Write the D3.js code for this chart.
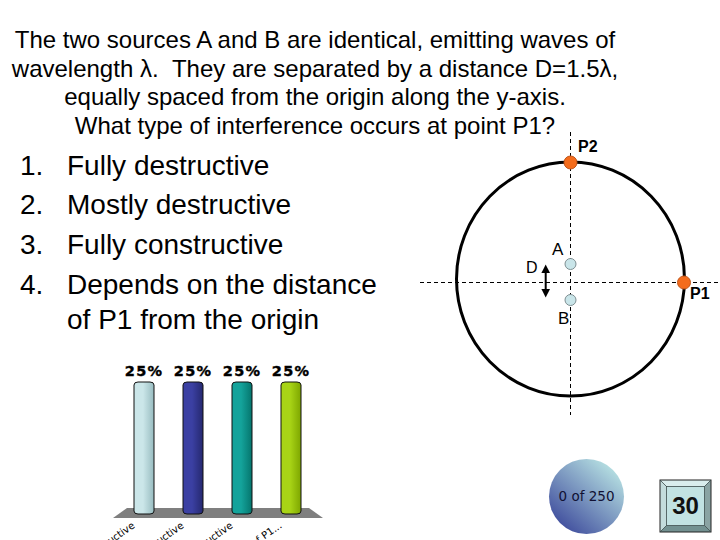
<!DOCTYPE html>
<html>
<head>
<meta charset="utf-8">
<script src="https://cdn.jsdelivr.net/npm/d3@7"></script>
<style>
  body { margin: 0; background: #fff; }
  svg { display: block; }
</style>
</head>
<body>
<div id="chart"></div>
<script>
// question text
const titleLines = [
    "The two sources A and B are identical, emitting waves of",
    "wavelength \u03bb.  They are separated by a distance D=1.5\u03bb,",
    "equally spaced from the origin along the y-axis.",
    "What type of interference occurs at point P1?"
];

// answer options
const optionNums = ["1.", "2.", "3.", "4."];
const optionLines = [
    ["Fully destructive"],
    ["Mostly destructive"],
    ["Fully constructive"],
    ["Depends on the distance", "of P1 from the origin"]
];

// response chart
const categories = ["Fully destructive", "Mostly destructive", "Fully constructive", "Depends on the distance of P1..."];
const percents = [25, 25, 25, 25];
const barColors = [["#cbe6e9", "#98bcc0"], ["#3b40a3", "#25286f"], ["#14a39b", "#05756d"], ["#a8d416", "#7ea600"]];

const responses = 0, participants = 250, countdown = 30;

const width = 720, height = 540;

const svg = d3.select("#chart")
    .append("svg")
    .attr("width", width)
    .attr("height", height);

const defs = svg.append("defs");

// Title
svg.append("g")
    .selectAll("text")
    .data(titleLines)
    .enter().append("text")
    .attr("x", 315)
    .attr("y", (d, i) => 48 + i * 28.7)
    .attr("text-anchor", "middle")
    .style("font-family", "Liberation Sans, Arial, sans-serif")
    .style("font-size", "24px")
    .style("white-space", "pre")
    .style("fill", "#000")
    .text(d => d);

// Options list
const optY = [175, 214, 254, 294];
const opts = svg.append("g")
    .style("font-family", "Liberation Sans, Arial, sans-serif")
    .style("font-size", "28px")
    .style("fill", "#000");

optionNums.forEach((n, i) => {
    opts.append("text").attr("x", 20).attr("y", optY[i]).text(n);
    optionLines[i].forEach((line, j) => {
        opts.append("text")
            .attr("x", 67)
            .attr("y", optY[i] + j * 35)
            .text(line);
    });
});

// Diagram: circle with sources
const cx = 570.5, cy = 282.5;
const diag = svg.append("g");

diag.append("line")
    .attr("x1", 420).attr("x2", 720)
    .attr("y1", cy).attr("y2", cy)
    .attr("stroke", "#000").attr("stroke-width", 1)
    .attr("stroke-dasharray", "4,3");

diag.append("line")
    .attr("x1", cx).attr("x2", cx)
    .attr("y1", 132).attr("y2", 415)
    .attr("stroke", "#000").attr("stroke-width", 1)
    .attr("stroke-dasharray", "4,3");

diag.append("ellipse")
    .attr("cx", cx).attr("cy", 279)
    .attr("rx", 114).attr("ry", 117)
    .attr("fill", "none")
    .attr("stroke", "#000")
    .attr("stroke-width", 3);

// sources A, B
[264, 300].forEach(y => {
    diag.append("circle")
        .attr("cx", cx).attr("cy", y).attr("r", 5.5)
        .attr("fill", "#c9e5e9")
        .attr("stroke", "#7f8f92")
        .attr("stroke-width", 1);
});

// points P1, P2
[[cx, 162.5], [684, cy]].forEach(p => {
    diag.append("circle")
        .attr("cx", p[0]).attr("cy", p[1]).attr("r", 6.5)
        .attr("fill", "#f46c1c")
        .attr("stroke", "#c2561a")
        .attr("stroke-width", 1);
});

// double arrow for D
defs.append("marker")
    .attr("id", "ah")
    .attr("viewBox", "0 0 10 10")
    .attr("refX", 6).attr("refY", 5)
    .attr("markerWidth", 4.5).attr("markerHeight", 4.5)
    .attr("orient", "auto-start-reverse")
    .append("path")
    .attr("d", "M0,0 L10,5 L0,10 z")
    .attr("fill", "#000");

diag.append("line")
    .attr("x1", 545.7).attr("x2", 545.7)
    .attr("y1", 268).attr("y2", 294)
    .attr("stroke", "#000").attr("stroke-width", 2)
    .attr("marker-start", "url(#ah)")
    .attr("marker-end", "url(#ah)");

const lbl = (x, y, t, size, bold) => diag.append("text")
    .attr("x", x).attr("y", y)
    .style("font-family", "Liberation Sans, Arial, sans-serif")
    .style("font-size", size + "px")
    .style("font-weight", bold ? "bold" : "normal")
    .text(t);

lbl(552, 255, "A", 17, false);
lbl(558, 324, "B", 17, false);
lbl(526, 273, "D", 16, false);
lbl(578, 152, "P2", 16, true);
lbl(690, 299, "P1", 16, true);

// Bar chart of responses
const x = d3.scalePoint()
    .domain(categories)
    .range([144, 291]);

const y = d3.scaleLinear()
    .domain([0, d3.max(percents)])
    .range([514, 382]);

const barW = 20;
const chart = svg.append("g");

// floor
const fx0 = x(categories[0]) - 17, fx1 = x(categories[categories.length - 1]) + 18;
chart.append("polygon")
    .attr("points", `${fx0},508 ${fx1},508 ${fx1 + 14},518 ${fx0 - 14},518`)
    .attr("fill", "#7f7f7f");

barColors.forEach((c, i) => {
    const g = defs.append("linearGradient")
        .attr("id", "bg" + i)
        .attr("x1", "0%").attr("x2", "100%");
    g.append("stop").attr("offset", "0%").attr("stop-color", c[0]);
    g.append("stop").attr("offset", "45%").attr("stop-color", c[0]);
    g.append("stop").attr("offset", "100%").attr("stop-color", c[1]);
});

chart.selectAll(".bar")
    .data(percents)
    .enter().append("rect")
    .attr("class", "bar")
    .attr("x", (d, i) => x(categories[i]) - barW / 2)
    .attr("y", d => y(d))
    .attr("width", barW)
    .attr("height", d => y(0) - y(d))
    .attr("rx", 4).attr("ry", 3)
    .attr("fill", (d, i) => `url(#bg${i})`)
    .attr("stroke", "#111")
    .attr("stroke-width", 1);

chart.selectAll(".pct")
    .data(percents)
    .enter().append("text")
    .attr("class", "pct")
    .attr("x", (d, i) => x(categories[i]))
    .attr("y", d => y(d) - 6)
    .attr("text-anchor", "middle")
    .style("font-family", "DejaVu Sans, Verdana, sans-serif")
    .style("font-size", "14.5px")
    .style("font-weight", "bold")
    .style("letter-spacing", "1.2px")
    .style("stroke", "#000")
    .style("stroke-width", "0.4px")
    .text(d => d + "%");

// category axis (clipped by the bottom edge, as in the slide)
const xAxis = chart.append("g")
    .attr("transform", "translate(-9,527)")
    .call(d3.axisBottom(x).tickSize(0).tickPadding(0));
xAxis.select(".domain").remove();
xAxis.selectAll("text")
    .attr("y", 0)
    .attr("dy", 0)
    .attr("text-anchor", "end")
    .attr("transform", "rotate(-35)")
    .style("font-family", "DejaVu Sans, Verdana, sans-serif")
    .style("font-size", "10px")
    .style("fill", "#000");

// response counter
const rg = defs.append("linearGradient")
    .attr("id", "cnt")
    .attr("x1", "15%").attr("y1", "90%")
    .attr("x2", "85%").attr("y2", "10%");
rg.append("stop").attr("offset", "0%").attr("stop-color", "#414f9e");
rg.append("stop").attr("offset", "100%").attr("stop-color", "#b6e0e2");

svg.append("circle")
    .attr("cx", 586.5).attr("cy", 496.5).attr("r", 37.5)
    .attr("fill", "url(#cnt)");

svg.append("text")
    .attr("x", 586.5).attr("y", 501)
    .attr("text-anchor", "middle")
    .style("font-family", "DejaVu Sans, Tahoma, sans-serif")
    .style("font-size", "13.5px")
    .style("fill", "#111133")
    .text(`${responses} of ${participants}`);

// countdown box
const bx0 = 660, by0 = 480, bx1 = 711, by1 = 532;
const ix0 = 666.5, iy0 = 486.5, ix1 = 704.5, iy1 = 525.5;
const box = svg.append("g");
box.append("polygon").attr("points", `${bx0},${by0} ${bx1},${by0} ${ix1},${iy0} ${ix0},${iy0}`).attr("fill", "#d9eded");
box.append("polygon").attr("points", `${bx0},${by0} ${ix0},${iy0} ${ix0},${iy1} ${bx0},${by1}`).attr("fill", "#c3dcdc");
box.append("polygon").attr("points", `${bx1},${by0} ${bx1},${by1} ${ix1},${iy1} ${ix1},${iy0}`).attr("fill", "#8aa3a3");
box.append("polygon").attr("points", `${bx0},${by1} ${ix0},${iy1} ${ix1},${iy1} ${bx1},${by1}`).attr("fill", "#739191");
box.append("rect")
    .attr("x", ix0).attr("y", iy0)
    .attr("width", ix1 - ix0).attr("height", iy1 - iy0)
    .attr("fill", "#c2e2e2")
    .attr("stroke", "#3a4a4a").attr("stroke-width", 0.8);
box.append("rect")
    .attr("x", bx0).attr("y", by0)
    .attr("width", bx1 - bx0).attr("height", by1 - by0)
    .attr("fill", "none")
    .attr("stroke", "#222").attr("stroke-width", 1);
[[bx0, by0, ix0, iy0], [bx1, by0, ix1, iy0], [bx0, by1, ix0, iy1], [bx1, by1, ix1, iy1]].forEach(l => {
    box.append("line")
        .attr("x1", l[0]).attr("y1", l[1]).attr("x2", l[2]).attr("y2", l[3])
        .attr("stroke", "#3a4a4a").attr("stroke-width", 0.8);
});
box.append("text")
    .attr("x", (ix0 + ix1) / 2).attr("y", 514)
    .attr("text-anchor", "middle")
    .style("font-family", "Liberation Sans, Arial, sans-serif")
    .style("font-size", "24px")
    .style("font-weight", "bold")
    .style("fill", "#111")
    .text(countdown);
</script>
</body>
</html>
